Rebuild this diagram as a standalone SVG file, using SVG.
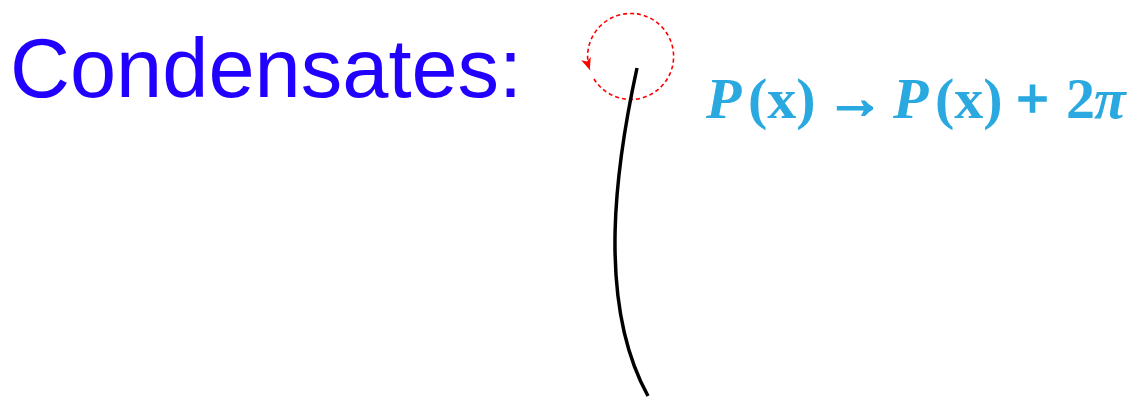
<svg xmlns="http://www.w3.org/2000/svg" width="1130" height="399" viewBox="0 0 1130 399">
<defs>
<marker id="redArrow" markerWidth="12" markerHeight="10" refX="12" refY="5" orient="auto" markerUnits="userSpaceOnUse">
<path d="M0,0 L12,5 L0,10 L3,5 Z" fill="#ff0000"/>
</marker>
<style>
.title{font-family:"Liberation Sans",Arial,sans-serif;font-size:83px;fill:#2200ff}
.formula{font-family:"Liberation Serif","Times New Roman",serif;font-size:58px;font-weight:bold;fill:#29a9df}
.it{font-style:italic}
</style>
</defs>
<g id="title"><text class="title" x="10" y="97">Condensates:</text></g>
<g id="connectors">
<path d="M594,79 A43,43 0 1 0 589.8,70" fill="none" stroke="#ff0000" stroke-width="1.6" stroke-dasharray="4,3" marker-end="url(#redArrow)"/>
<path d="M637,68 C617,160 595,300 648,396" fill="none" stroke="#000000" stroke-width="3.5"/>
</g>
<g id="formula"><text class="formula" y="118"><tspan class="it" x="706">P</tspan><tspan x="748">(x)</tspan><tspan x="826" stroke="#29a9df" stroke-width="2">→</tspan><tspan class="it" x="893">P</tspan><tspan x="935">(x)</tspan><tspan x="1016" stroke="#29a9df" stroke-width="1.5">+</tspan><tspan x="1066">2</tspan><tspan class="it" x="1094">π</tspan></text></g>
</svg>
